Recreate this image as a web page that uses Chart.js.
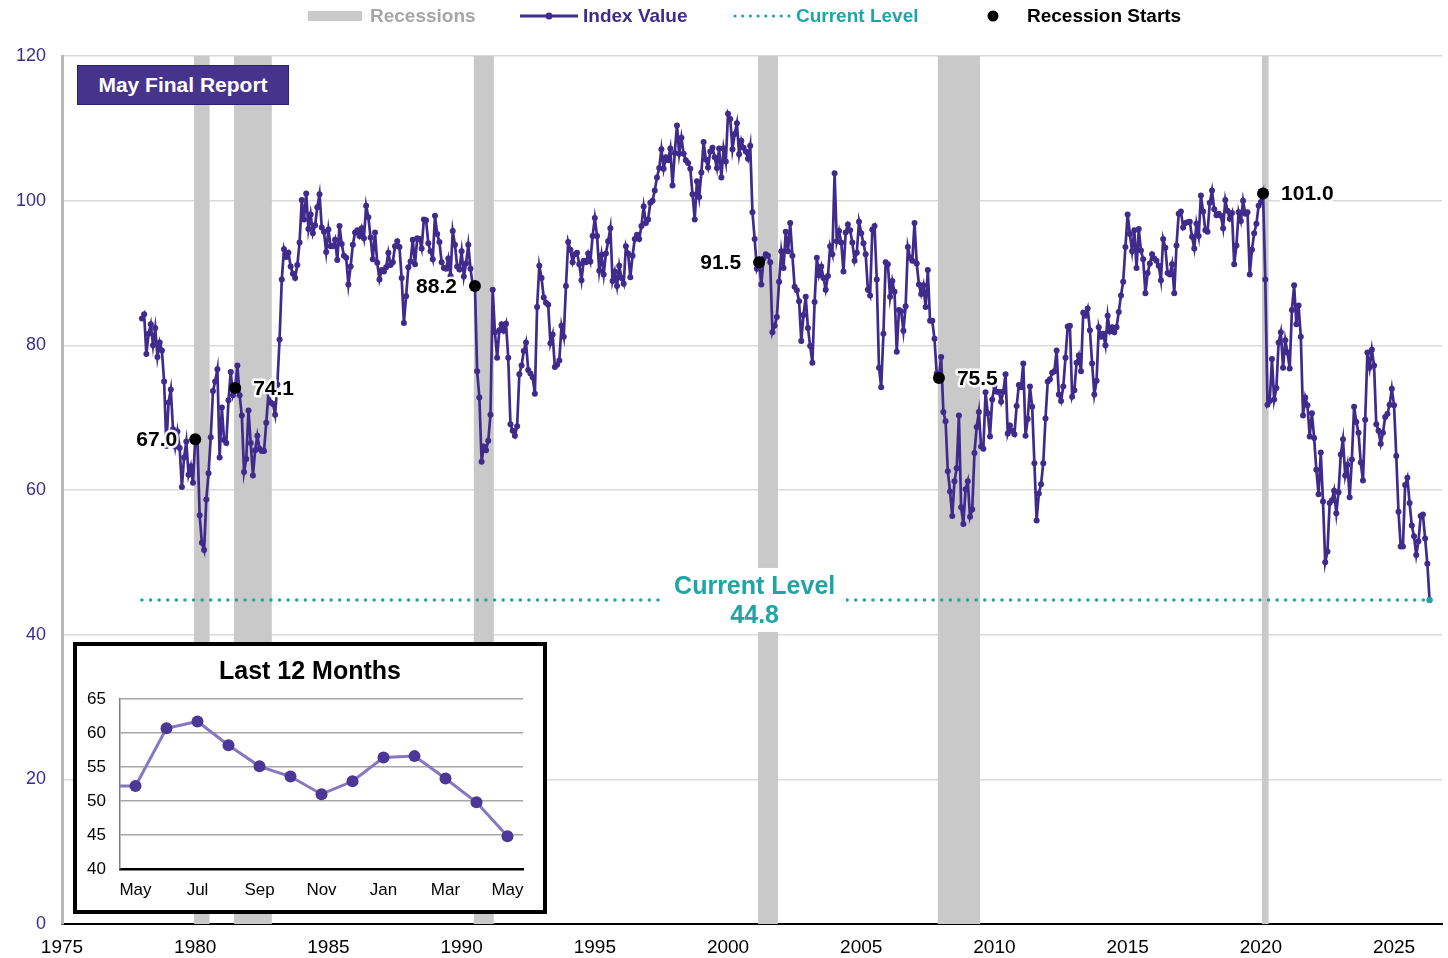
<!DOCTYPE html>
<html>
<head>
<meta charset="utf-8">
<script src="https://cdn.jsdelivr.net/npm/chart.js@4.4.1/dist/chart.umd.min.js"></script>
<style>
  body { margin: 0; background: #fff; }
  #wrap { position: relative; width: 1448px; height: 958px; font-family: "Liberation Sans", Arial, sans-serif; }
  #main { position: absolute; left: 0; top: 0; }
  #badge { position: absolute; left: 77px; top: 65px; width: 210px; height: 38px; background: #46338c;
           border: 1px solid #2e2070; color: #fff; font: bold 21px "Liberation Sans", Arial, sans-serif;
           display: flex; align-items: center; justify-content: center; }
  #inset { position: absolute; left: 73px; top: 642px; width: 466px; height: 264px; border: 4px solid #000; background: #fff; }
  #insetTitle { position: absolute; left: 0; top: 10px; width: 100%; text-align: center; font: bold 25px "Liberation Sans", Arial, sans-serif; color: #000; }
  #insetCanvas { position: absolute; left: 0; top: 0; }
</style>
</head>
<body>
<div id="wrap">
  <canvas id="main" width="1448" height="958"></canvas>
  <div id="badge">May Final Report</div>
  <div id="inset">
    <canvas id="insetCanvas" width="466" height="264"></canvas>
    <div id="insetTitle">Last 12 Months</div>
  </div>
</div>
<script>
// monthly index values, Jan 1978 .. May 2026
const startYear = 1978;
const sentiment = [
  83.7, 84.3, 78.8, 81.6, 82.9, 80.0, 82.4, 78.4, 80.4, 79.3, 75.0, 66.1, // 1978
  72.1, 73.9, 68.4, 66.0, 68.1, 65.8, 60.4, 64.5, 66.7, 62.1, 63.3, 61.0, // 1979
  67.0, 66.9, 56.5, 52.7, 51.7, 58.7, 62.3, 67.3, 73.7, 75.0, 76.7, 64.5, // 1980
  71.4, 66.9, 66.5, 72.4, 76.3, 73.1, 74.1, 77.2, 73.1, 70.3, 62.5, 64.3, // 1981
  71.0, 66.5, 62.0, 65.5, 67.5, 65.7, 65.4, 65.4, 69.3, 73.4, 72.1, 71.9, // 1982
  70.4, 74.6, 80.8, 89.1, 93.3, 92.2, 92.8, 90.9, 89.9, 89.3, 91.1, 94.2, // 1983
  100.1, 97.4, 101.0, 96.1, 98.1, 95.5, 96.6, 99.1, 100.9, 96.3, 95.7, 92.9, // 1984
  96.0, 93.7, 93.7, 94.6, 91.8, 96.5, 94.0, 92.4, 92.1, 88.4, 90.9, 93.9, // 1985
  95.6, 95.9, 95.1, 96.2, 94.8, 99.3, 97.7, 94.9, 91.9, 95.6, 91.4, 89.1, // 1986
  90.4, 90.2, 90.8, 92.8, 91.1, 91.5, 93.7, 94.4, 93.6, 89.3, 83.1, 86.8, // 1987
  90.8, 91.6, 94.6, 91.2, 94.8, 94.7, 93.4, 97.4, 97.3, 94.1, 93.0, 91.9, // 1988
  97.9, 95.4, 94.3, 91.5, 90.7, 90.6, 92.0, 89.6, 95.8, 93.9, 90.9, 90.5, // 1989
  93.0, 89.5, 91.3, 93.9, 90.6, 88.3, 88.2, 76.4, 72.8, 63.9, 66.0, 65.5, // 1990
  66.8, 70.4, 87.7, 81.8, 78.3, 82.1, 82.9, 82.0, 83.0, 78.3, 69.1, 68.2, // 1991
  67.5, 68.8, 76.0, 77.2, 79.2, 80.4, 76.6, 76.1, 75.6, 73.3, 85.3, 91.0, // 1992
  89.3, 86.6, 85.9, 85.6, 80.3, 81.5, 77.0, 77.3, 77.9, 82.7, 81.2, 88.2, // 1993
  94.3, 93.2, 91.5, 92.6, 92.8, 91.2, 89.0, 91.7, 91.5, 92.7, 91.6, 95.1, // 1994
  97.6, 95.1, 90.3, 92.5, 89.8, 92.7, 94.4, 96.2, 88.9, 90.2, 88.2, 91.0, // 1995
  89.3, 88.5, 93.7, 92.7, 89.4, 92.4, 94.7, 95.3, 94.7, 96.5, 99.2, 96.9, // 1996
  97.4, 99.7, 100.0, 101.4, 103.2, 104.5, 107.1, 104.4, 106.0, 105.6, 107.2, 102.1, // 1997
  106.6, 110.4, 106.5, 108.7, 106.5, 105.6, 105.2, 104.4, 100.9, 97.4, 102.7, 100.5, // 1998
  103.9, 108.1, 105.7, 104.6, 106.8, 107.3, 106.0, 104.5, 107.2, 103.2, 107.2, 105.4, // 1999
  112.0, 111.3, 107.1, 109.2, 110.7, 106.4, 108.3, 107.3, 106.8, 105.8, 107.6, 98.4, // 2000
  94.7, 90.6, 91.5, 88.4, 92.0, 92.6, 92.4, 91.5, 81.8, 82.7, 83.9, 88.8, // 2001
  93.0, 90.7, 95.7, 93.0, 96.9, 92.4, 88.1, 87.6, 86.1, 80.6, 84.2, 86.7, // 2002
  82.4, 79.9, 77.6, 86.0, 92.1, 89.7, 90.9, 89.3, 87.7, 89.6, 93.7, 92.6, // 2003
  103.8, 94.4, 95.8, 94.2, 90.2, 95.6, 96.7, 95.9, 94.2, 91.7, 92.8, 97.1, // 2004
  95.5, 94.1, 92.6, 87.7, 86.9, 96.0, 96.5, 89.1, 76.9, 74.2, 81.6, 91.5, // 2005
  91.2, 86.7, 88.9, 87.4, 79.1, 84.9, 84.7, 82.0, 85.4, 93.6, 92.1, 91.7, // 2006
  96.9, 91.3, 88.4, 87.1, 88.3, 85.3, 90.4, 83.4, 83.4, 80.9, 76.1, 75.5, // 2007
  78.4, 70.8, 69.5, 62.6, 59.8, 56.4, 61.2, 63.0, 70.3, 57.6, 55.3, 60.1, // 2008
  61.2, 56.3, 57.3, 65.1, 68.7, 70.8, 66.0, 65.7, 73.5, 70.6, 67.4, 72.5, // 2009
  74.4, 73.6, 73.6, 72.2, 73.6, 76.0, 67.8, 68.9, 68.2, 67.7, 71.6, 74.5, // 2010
  74.2, 77.5, 67.5, 69.8, 74.3, 71.5, 63.7, 55.8, 59.5, 60.8, 63.7, 69.9, // 2011
  75.0, 75.3, 76.2, 76.4, 79.3, 73.2, 72.3, 74.3, 78.3, 82.6, 82.7, 72.9, // 2012
  73.8, 77.6, 78.6, 76.4, 84.5, 84.1, 85.1, 82.1, 77.5, 73.2, 75.1, 82.5, // 2013
  81.2, 81.6, 80.0, 84.1, 81.9, 82.5, 81.8, 82.5, 84.6, 86.9, 88.8, 93.6, // 2014
  98.1, 95.4, 93.0, 95.9, 90.7, 96.1, 93.1, 91.9, 87.2, 90.0, 91.3, 92.6, // 2015
  92.0, 91.7, 91.0, 89.0, 94.7, 93.5, 90.0, 89.8, 91.2, 87.2, 93.8, 98.2, // 2016
  98.5, 96.3, 96.9, 97.0, 97.1, 95.0, 93.4, 96.8, 95.1, 100.7, 98.5, 95.9, // 2017
  95.7, 99.7, 101.4, 98.8, 98.0, 98.2, 97.9, 96.2, 100.1, 98.6, 97.5, 98.3, // 2018
  91.2, 93.8, 98.4, 97.2, 100.0, 98.2, 98.4, 89.8, 93.2, 95.5, 96.8, 99.3, // 2019
  99.8, 101.0, 89.1, 71.8, 72.3, 78.1, 72.5, 74.1, 80.4, 81.8, 76.9, 80.7, // 2020
  79.0, 76.8, 84.9, 88.3, 82.9, 85.5, 81.2, 70.3, 72.8, 71.7, 67.4, 70.6, // 2021
  67.2, 62.8, 59.4, 65.2, 58.4, 50.0, 51.5, 58.2, 58.6, 59.9, 56.8, 59.7, // 2022
  64.9, 67.0, 62.0, 63.5, 59.0, 64.2, 71.5, 69.4, 67.9, 63.8, 61.3, 69.7, // 2023
  79.0, 76.9, 79.4, 77.2, 69.1, 68.2, 66.4, 67.9, 70.1, 70.5, 71.8, 74.0, // 2024
  71.7, 64.7, 57.0, 52.2, 52.2, 60.7, 61.7, 58.2, 55.1, 53.6, 51.0, 52.9, // 2025
  56.4, 56.6, 53.3, 49.8, 44.8                                            // 2026
];

// NBER recessions (first and last month)
const recessionStarts = ['1980-01', '1981-07', '1990-07', '2001-03', '2007-12', '2020-02'];
const recessionEnds   = ['1980-07', '1982-11', '1991-03', '2001-11', '2009-06', '2020-04'];
const startLabelSide  = ['left', 'right', 'left', 'left', 'right', 'right'];

const yTicks = [0, 20, 40, 60, 80, 100, 120];
const xTickYears = [1975, 1980, 1985, 1990, 1995, 2000, 2005, 2010, 2015, 2020, 2025];

// inset: last 12 months (plus the month before, clipped at the left edge)
const insetMonths = ['Apr', 'May', 'Jun', 'Jul', 'Aug', 'Sep', 'Oct', 'Nov', 'Dec', 'Jan', 'Feb', 'Mar', 'Apr', 'May'];
const insetValues = sentiment.slice(-insetMonths.length);
const insetTicks = [40, 45, 50, 55, 60, 65];

const PURPLE = '#3e2b8c';
const TEAL = '#1fa5a5';
const REC_GRAY = '#c9c9c9';
const FONT = '"Liberation Sans", Arial, sans-serif';

const toYear = s => { const [y, m] = s.split('-').map(Number); return y + (m - 1) / 12; };
const idxOf = s => { const [y, m] = s.split('-').map(Number); return (y - startYear) * 12 + m - 1; };

const seriesPoints = sentiment.map((v, i) => ({ x: startYear + i / 12, y: v }));
const lastX = startYear + (sentiment.length - 1) / 12;
const current = sentiment[sentiment.length - 1];
const startPoints = recessionStarts.map(s => ({ x: toYear(s), y: sentiment[idxOf(s)] }));

const recessionBars = {
  id: 'recessionBars',
  beforeDatasetsDraw(chart) {
    const { ctx, chartArea, scales } = chart;
    ctx.save();
    ctx.fillStyle = REC_GRAY;
    recessionStarts.forEach((s, i) => {
      const x0 = scales.x.getPixelForValue(toYear(s) - 1 / 24);
      const x1 = scales.x.getPixelForValue(toYear(recessionEnds[i]) + 1 / 24);
      ctx.fillRect(x0, chartArea.top, x1 - x0, chartArea.bottom - chartArea.top);
    });
    ctx.restore();
  }
};

const annotations = {
  id: 'annotations',
  afterDatasetsDraw(chart) {
    const { ctx, scales } = chart;
    ctx.save();
    // recession start values
    ctx.font = 'bold 21px ' + FONT;
    ctx.textBaseline = 'middle';
    ctx.lineJoin = 'round';
    startPoints.forEach((p, i) => {
      const px = scales.x.getPixelForValue(p.x);
      const py = scales.y.getPixelForValue(p.y);
      const txt = p.y.toFixed(1);
      const left = startLabelSide[i] === 'left';
      ctx.textAlign = left ? 'right' : 'left';
      const tx = left ? px - 18 : px + 18;
      ctx.strokeStyle = 'rgba(255,255,255,0.9)';
      ctx.lineWidth = 5;
      ctx.strokeText(txt, tx, py + 1);
      ctx.fillStyle = '#000';
      ctx.fillText(txt, tx, py + 1);
    });
    // current level label
    const cx = scales.x.getPixelForValue(2001.0);
    const cy = scales.y.getPixelForValue(current);
    ctx.fillStyle = '#fff';
    ctx.fillRect(cx - 91, cy - 32, 182, 64);
    ctx.font = 'bold 25px ' + FONT;
    ctx.textAlign = 'center';
    ctx.fillStyle = TEAL;
    ctx.fillText('Current Level', cx, cy - 13);
    ctx.fillText(current.toFixed(1), cx, cy + 16);
    ctx.restore();
  },
  afterDraw(chart) {
    const ctx = chart.ctx;
    ctx.save();
    ctx.font = 'bold 19px ' + FONT;
    ctx.textBaseline = 'middle';
    ctx.textAlign = 'left';
    const y = 16;
    // Recessions
    ctx.fillStyle = REC_GRAY;
    ctx.fillRect(308, y - 5, 54, 10);
    ctx.fillStyle = '#a6a6a6';
    ctx.fillText('Recessions', 370, y + 1);
    // Index Value
    ctx.strokeStyle = PURPLE;
    ctx.lineWidth = 3;
    ctx.beginPath(); ctx.moveTo(520, y); ctx.lineTo(578, y); ctx.stroke();
    ctx.fillStyle = PURPLE;
    ctx.beginPath(); ctx.arc(549, y, 3.5, 0, Math.PI * 2); ctx.fill();
    ctx.fillText('Index Value', 583, y + 1);
    // Current Level
    ctx.fillStyle = TEAL;
    for (let x = 735; x <= 789; x += 7.7) { ctx.beginPath(); ctx.arc(x, y, 1.6, 0, Math.PI * 2); ctx.fill(); }
    ctx.fillText('Current Level', 796, y + 1);
    // Recession Starts
    ctx.fillStyle = '#000';
    ctx.beginPath(); ctx.arc(993, y, 5.5, 0, Math.PI * 2); ctx.fill();
    ctx.fillText('Recession Starts', 1027, y + 1);
    ctx.restore();
  }
};

new Chart(document.getElementById('main'), {
  type: 'line',
  data: {
    datasets: [
      {
        label: 'Recession Starts',
        data: startPoints,
        showLine: false,
        pointRadius: 6,
        pointBackgroundColor: '#000',
        pointBorderColor: '#000',
        pointBorderWidth: 0
      },
      {
        label: 'Current Level',
        data: [{ x: startYear, y: current }, { x: lastX, y: current }],
        borderColor: TEAL,
        borderWidth: 3.5,
        borderDash: [0, 8.6],
        borderCapStyle: 'round',
        pointRadius: [0, 3],
        pointBackgroundColor: TEAL,
        pointBorderWidth: 0
      },
      {
        label: 'Index Value',
        data: seriesPoints,
        borderColor: PURPLE,
        backgroundColor: PURPLE,
        borderWidth: 2.7,
        pointRadius: 3,
        pointBackgroundColor: PURPLE,
        pointBorderWidth: 0,
        tension: 0
      }
    ]
  },
  options: {
    responsive: false,
    animation: false,
    layout: { padding: { top: 56, right: 0, left: 0, bottom: 0 } },
    plugins: { legend: { display: false }, tooltip: { enabled: false } },
    scales: {
      x: {
        type: 'linear',
        min: 1975,
        max: 2026.8,
        afterFit: s => { s.height = 34; },
        afterBuildTicks: s => { s.ticks = xTickYears.map(v => ({ value: v })); },
        ticks: { color: '#000', font: { size: 19, family: FONT }, padding: 12, callback: v => String(v) },
        grid: { display: false, drawTicks: false },
        border: { color: '#000', width: 2 }
      },
      y: {
        min: 0,
        max: 120,
        afterFit: s => { s.width = 62; },
        afterBuildTicks: s => { s.ticks = yTicks.map(v => ({ value: v })); },
        ticks: { color: '#3b2e8a', font: { size: 18, family: FONT }, padding: 16 },
        grid: { color: '#d9d9d9', lineWidth: 1.5, drawTicks: false },
        border: { color: '#b8b8b8', width: 3 }
      }
    }
  },
  plugins: [recessionBars, annotations]
});

new Chart(document.getElementById('insetCanvas'), {
  type: 'line',
  data: {
    datasets: [{
      data: insetValues.map((v, i) => ({ x: i - 1, y: v })),
      borderColor: '#8677c0',
      borderWidth: 3,
      pointRadius: 6,
      pointBackgroundColor: '#4a3796',
      pointBorderWidth: 0,
      tension: 0
    }]
  },
  options: {
    responsive: false,
    animation: false,
    layout: { padding: { top: 53, right: 20, left: 0, bottom: 0 } },
    plugins: { legend: { display: false }, tooltip: { enabled: false } },
    scales: {
      x: {
        type: 'linear',
        min: -0.5,
        max: 12.5,
        afterFit: s => { s.height = 41; },
        afterBuildTicks: s => { s.ticks = [0, 2, 4, 6, 8, 10, 12].map(v => ({ value: v })); },
        ticks: { color: '#000', font: { size: 17, family: FONT }, padding: 11,
                 callback: v => insetMonths[v + 1] },
        grid: { display: false, drawTicks: false },
        border: { color: '#000', width: 2.5 }
      },
      y: {
        min: 40,
        max: 65,
        afterFit: s => { s.width = 43; },
        afterBuildTicks: s => { s.ticks = insetTicks.map(v => ({ value: v })); },
        ticks: { color: '#000', font: { size: 17, family: FONT }, padding: 14 },
        grid: { color: '#a6a6a6', lineWidth: 1.5, drawTicks: false },
        border: { color: '#7f7f7f', width: 1.5 }
      }
    }
  }
});
</script>
</body>
</html>
